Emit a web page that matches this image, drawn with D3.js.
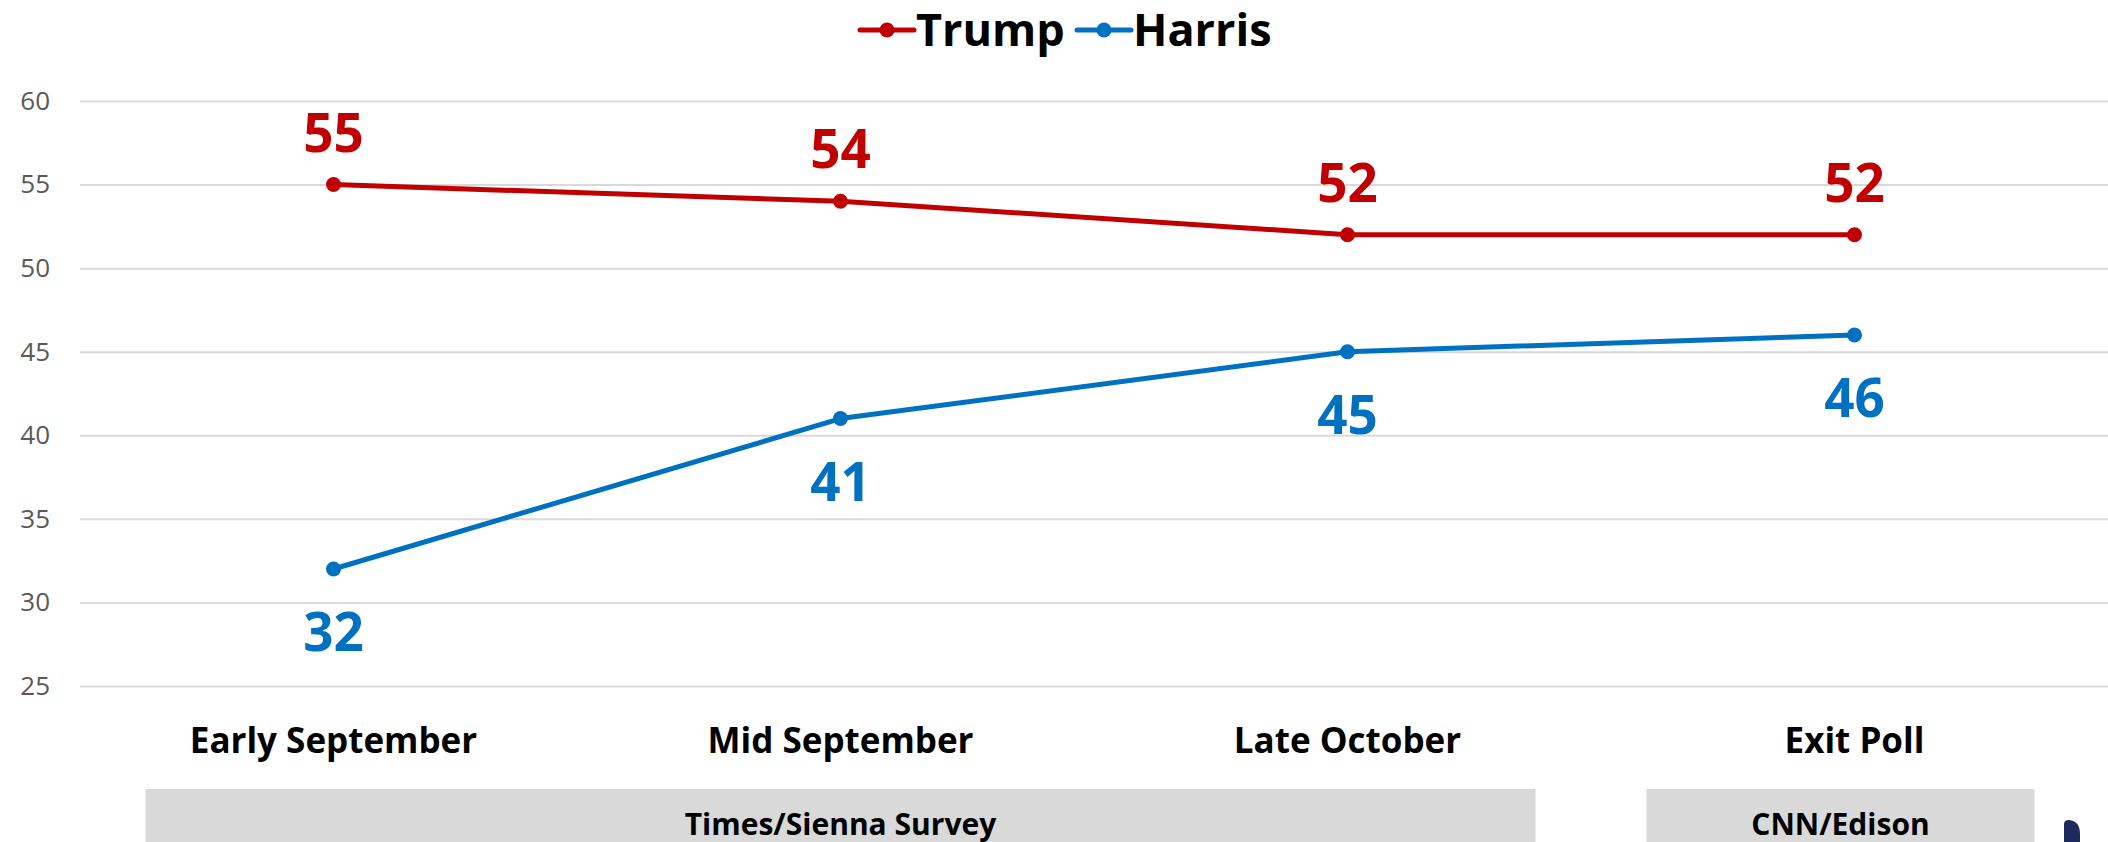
<!DOCTYPE html>
<html>
<head>
<meta charset="utf-8">
<script src="https://cdnjs.cloudflare.com/ajax/libs/d3/7.9.0/d3.min.js"></script>
<style>
  html, body { margin: 0; padding: 0; background: #fff; }
  svg { display: block; font-family: 'Open Sans', sans-serif; }
</style>
</head>
<body>
<svg id="chart" width="2108" height="842"></svg>
<script>
const W = 2108, H = 842;
const RED = '#C00000';
const BLUE = '#0070C0';
const GRID = '#D9D9D9';

// data
const categories = ['Early September', 'Mid September', 'Late October', 'Exit Poll'];
const trump = [55, 54, 52, 52];
const harris = [32, 41, 45, 46];
const yTicks = [25, 30, 35, 40, 45, 50, 55, 60];
const sourceLabels = ['Times/Sienna Survey', 'CNN/Edison'];
const sourceSpans = [[0, 2], [3, 3]];

const series = [
  { name: 'Trump', values: trump, color: RED, labelDy: -33 },
  { name: 'Harris', values: harris, color: BLUE, labelDy: 82 }
];

const svg = d3.select('#chart');

const x = d3.scaleBand().domain(categories).range([80, 2108]);
const y = d3.scaleLinear().domain([25, 60]).range([686, 101]);
const cx = c => x(c) + x.bandwidth() / 2;

// gridlines + y labels
const yAxis = d3.axisLeft(y).tickValues(yTicks).tickSize(-(2108 - 80)).tickPadding(30);
const ga = svg.append('g').attr('transform', 'translate(80,0)').call(yAxis);
ga.select('.domain').remove();
ga.selectAll('.tick line').attr('stroke', GRID).attr('stroke-width', 2);
ga.selectAll('.tick text').attr('fill', '#595959').attr('font-size', 26)
  .attr('font-family', "'Open Sans', sans-serif");

// category labels
svg.append('g').selectAll('text').data(categories).join('text')
  .attr('x', d => cx(d)).attr('y', 753)
  .attr('text-anchor', 'middle').attr('font-size', 35).attr('font-weight', 700)
  .attr('fill', '#000').text(d => d);

// source boxes (grey bars under the categories)
const boxPad = [[188, 188], [208, 180]];
const boxes = sourceLabels.map((label, i) => {
  const x0 = cx(categories[sourceSpans[i][0]]) - boxPad[i][0];
  const x1 = cx(categories[sourceSpans[i][1]]) + boxPad[i][1];
  return { label, x0, x1 };
});
const sg = svg.append('g').selectAll('g').data(boxes).join('g');
sg.append('rect')
  .attr('x', d => d.x0).attr('width', d => d.x1 - d.x0)
  .attr('y', 789).attr('height', 60).attr('fill', '#D9D9D9');
sg.append('text')
  .attr('x', d => (d.x0 + d.x1) / 2)
  .attr('y', 835).attr('text-anchor', 'middle')
  .attr('font-size', 30).attr('font-weight', 700).attr('fill', '#000')
  .text(d => d.label);

// lines
const line = d3.line().x((d, i) => cx(categories[i])).y(d => y(d));
series.forEach(s => {
  const g = svg.append('g');
  g.append('path').datum(s.values).attr('d', line)
    .attr('fill', 'none').attr('stroke', s.color).attr('stroke-width', 5)
    .attr('stroke-linejoin', 'round');
  g.selectAll('circle').data(s.values).join('circle')
    .attr('cx', (d, i) => cx(categories[i])).attr('cy', d => y(d))
    .attr('r', 7.5).attr('fill', s.color);
  g.selectAll('text').data(s.values).join('text')
    .attr('x', (d, i) => cx(categories[i])).attr('y', d => y(d) + s.labelDy)
    .attr('text-anchor', 'middle').attr('font-size', 53).attr('font-weight', 700)
    .attr('fill', s.color).text(d => d);
});

// legend
const legendX = [860, 1077];
const lg = svg.append('g').selectAll('g').data(series).join('g')
  .attr('transform', (d, i) => `translate(${legendX[i]},30)`);
lg.append('line').attr('x1', 0).attr('x2', 54).attr('stroke', d => d.color)
  .attr('stroke-width', 5).attr('stroke-linecap', 'round');
lg.append('circle').attr('cx', 27).attr('r', 7.5).attr('fill', d => d.color);
lg.append('text').attr('x', 56).attr('y', 16).attr('font-size', 45).attr('font-weight', 700)
  .attr('fill', '#000').text(d => d.name);

// cut-off mark at bottom right
svg.append('path')
  .attr('d', 'M2064,842 L2064,824 Q2064,820 2069,820 Q2080,821 2080,834 L2080,842 Z')
  .attr('fill', '#1F2A5C');
</script>
</body>
</html>
